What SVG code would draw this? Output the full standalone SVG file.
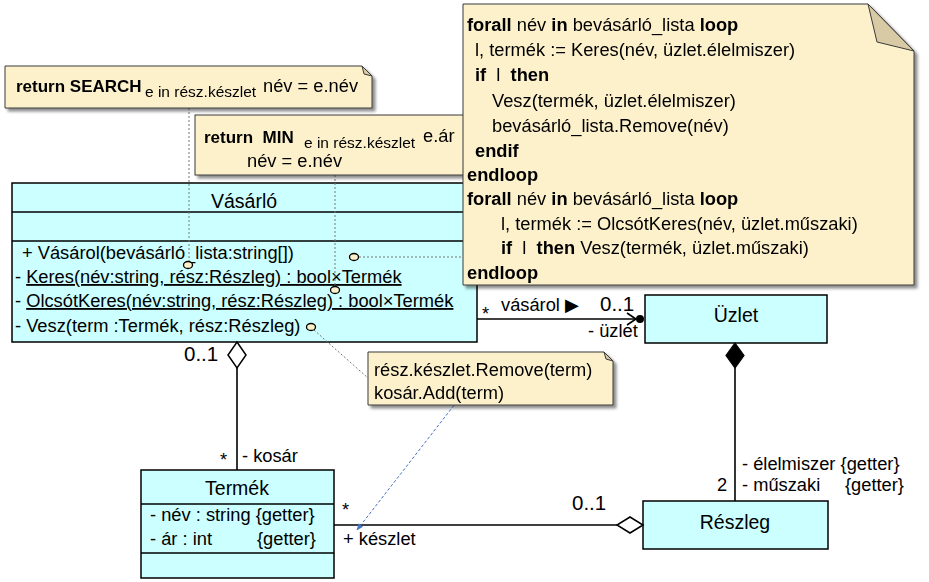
<svg xmlns="http://www.w3.org/2000/svg" width="929" height="582" viewBox="0 0 929 582">
<style>
text{font-family:"Liberation Sans",Arial,sans-serif;font-size:18.3px;fill:#000}
.n{font-size:19.5px}
.m{font-size:20.5px}
.b{font-weight:bold}
.kb{font-weight:bold;font-size:17px}
.s{font-size:15.5px}
.cls{fill:#ccffff;stroke:#000;stroke-width:1.5}
.div{stroke:#000;stroke-width:1.3}
.note{fill:#fdf1cc;stroke:#3a3a3a;stroke-width:1}
.fold{fill:#d8caa4;stroke:#3a3a3a;stroke-width:1}
.assoc{stroke:#000;stroke-width:1.6;fill:none}
.dot{stroke:#777;stroke-width:1;stroke-dasharray:2 2;fill:none}
.pin{fill:#fdf1cc;stroke:#000;stroke-width:1.3}
.u{text-decoration:underline}
</style>
<defs>
<filter id="sh" x="-5%" y="-5%" width="115%" height="130%">
<feDropShadow dx="3" dy="3" stdDeviation="1.5" flood-color="#000" flood-opacity="0.45"/>
</filter>
<marker id="ba" viewBox="0 0 10 10" refX="9" refY="5" markerWidth="7" markerHeight="7" orient="auto-start-reverse" markerUnits="userSpaceOnUse">
<path d="M0,1 L10,5 L0,9 z" fill="#4472c4"/>
</marker>
</defs>

<g id="vasarlo">
<rect class="cls" x="12" y="183" width="465" height="159"/>
<line class="div" x1="12" y1="212" x2="477" y2="212"/>
<line class="div" x1="12" y1="241" x2="477" y2="241"/>
<text class="n" x="244" y="208" text-anchor="middle">Vásárló</text>
<text x="22" y="259">+ Vásárol(bevásárló_lista:string[])</text>
<text x="15" y="283">- <tspan class="u">Keres(név:string, rész:Részleg) : bool×Termék</tspan></text>
<text x="15" y="307">- <tspan class="u">OlcsótKeres(név:string, rész:Részleg) : bool×Termék</tspan></text>
<text x="15" y="332">- Vesz(term :Termék, rész:Részleg)</text>
</g>

<g id="uzlet">
<rect class="cls" x="645" y="295" width="182" height="48"/>
<text class="n" x="736" y="322" text-anchor="middle">Üzlet</text>
</g>

<g id="termek">
<rect class="cls" x="141" y="470" width="193" height="108"/>
<line class="div" x1="141" y1="504" x2="334" y2="504"/>
<line class="div" x1="141" y1="553" x2="334" y2="553"/>
<text class="n" x="237" y="495" text-anchor="middle">Termék</text>
<text x="150" y="521">- név : string {getter}</text>
<text x="150" y="545">- ár : int</text>
<text x="257" y="545">{getter}</text>
</g>

<g id="reszleg">
<rect class="cls" x="643" y="501" width="185" height="48"/>
<text class="n" x="735" y="529" text-anchor="middle">Részleg</text>
</g>

<g id="connectors">
<line class="assoc" x1="477" y1="319" x2="636" y2="319"/>
<polyline class="assoc" points="627,313 636,319 627,325"/>
<circle cx="640" cy="319" r="4" fill="#000"/>
<text x="482" y="320">*</text>
<text x="501" y="311">vásárol ▶</text>
<text class="m" x="600" y="311">0..1</text>
<text x="588" y="337">- üzlet</text>
<line class="assoc" x1="735" y1="368" x2="735" y2="501"/>
<polygon points="735,343 744,355.5 735,368 726,355.5" fill="#000" stroke="#000" stroke-width="1.2"/>
<text x="742" y="470">- élelmiszer {getter}</text>
<text x="742" y="491">- műszaki</text>
<text x="845" y="491">{getter}</text>
<text x="717" y="491">2</text>
<line class="assoc" x1="334" y1="525" x2="617" y2="525"/>
<polygon points="643,525 630,533 617,525 630,517" fill="#fff" stroke="#000" stroke-width="1.5"/>
<text class="m" x="572" y="510">0..1</text>
<text x="342" y="516">*</text>
<text x="343" y="545">+ készlet</text>
<line class="assoc" x1="237" y1="368" x2="237" y2="470"/>
<polygon points="237,342 246,355 237,368 228,355" fill="#fff" stroke="#000" stroke-width="1.5"/>
<text class="m" x="184" y="361">0..1</text>
<text x="220" y="466">*</text>
<text x="242" y="462">- kosár</text>
<line class="dot" x1="189" y1="108" x2="189" y2="262"/>
<line class="dot" x1="335" y1="175" x2="335" y2="287"/>
<line class="dot" x1="359" y1="257" x2="463" y2="257"/>
<line class="dot" x1="314" y1="330" x2="368" y2="378"/>
<ellipse class="pin" cx="188" cy="265" rx="4.5" ry="3.5"/>
<ellipse class="pin" cx="335" cy="290" rx="4.5" ry="3.5"/>
<ellipse class="pin" cx="354" cy="257" rx="4.5" ry="3.5"/>
<ellipse class="pin" cx="311" cy="327" rx="4.5" ry="3.5"/>
<line x1="357" y1="530" x2="476" y2="377" stroke="#4472c4" stroke-width="1" stroke-dasharray="3 2" marker-start="url(#ba)" marker-end="url(#ba)"/>
</g>

<g id="note-search" filter="url(#sh)">
<polygon class="note" points="5,66 362,66 372,76 372,108 5,108"/>
<polygon class="fold" points="362,66 364,74 372,76"/>
<text class="kb" x="16" y="92">return SEARCH</text>
<text class="s" x="145" y="97">e in rész.készlet</text>
<text x="263" y="92">név = e.név</text>
</g>

<g id="note-min" filter="url(#sh)">
<rect class="note" x="195" y="115" width="275" height="60"/>
<text class="kb" x="204" y="143" xml:space="preserve">return  MIN</text>
<text class="s" x="304" y="148">e in rész.készlet</text>
<text x="423" y="142">e.ár</text>
<text x="247" y="167">név = e.név</text>
</g>

<g id="note-algo" filter="url(#sh)">
<polygon class="note" points="463,4 868,4 914,51 914,285 463,285"/>
<polygon class="fold" points="868,4 877,42 914,51"/>
<text x="467" y="31"><tspan class="b">forall</tspan> név <tspan class="b">in</tspan> bevásárló_lista <tspan class="b">loop</tspan></text>
<text x="475" y="56">l, termék := Keres(név, üzlet.élelmiszer)</text>
<text x="475" y="81" xml:space="preserve"><tspan class="b">if</tspan>  l  <tspan class="b">then</tspan></text>
<text x="492" y="107">Vesz(termék, üzlet.élelmiszer)</text>
<text x="492" y="132">bevásárló_lista.Remove(név)</text>
<text class="b" x="475" y="157">endif</text>
<text class="b" x="467" y="181">endloop</text>
<text x="467" y="205"><tspan class="b">forall</tspan> név <tspan class="b">in</tspan> bevásárló_lista <tspan class="b">loop</tspan></text>
<text x="501" y="230">l, termék := OlcsótKeres(név, üzlet.műszaki)</text>
<text x="501" y="254" xml:space="preserve"><tspan class="b">if</tspan>  l  <tspan class="b">then</tspan> Vesz(termék, üzlet.műszaki)</text>
<text class="b" x="467" y="279">endloop</text>
</g>

<g id="note-vesz" filter="url(#sh)">
<polygon class="note" points="368,352 604,352 613,361 613,405 368,405"/>
<polygon class="fold" points="604,352 606,359 613,361"/>
<text x="374" y="376">rész.készlet.Remove(term)</text>
<text x="374" y="399">kosár.Add(term)</text>
</g>
</svg>
